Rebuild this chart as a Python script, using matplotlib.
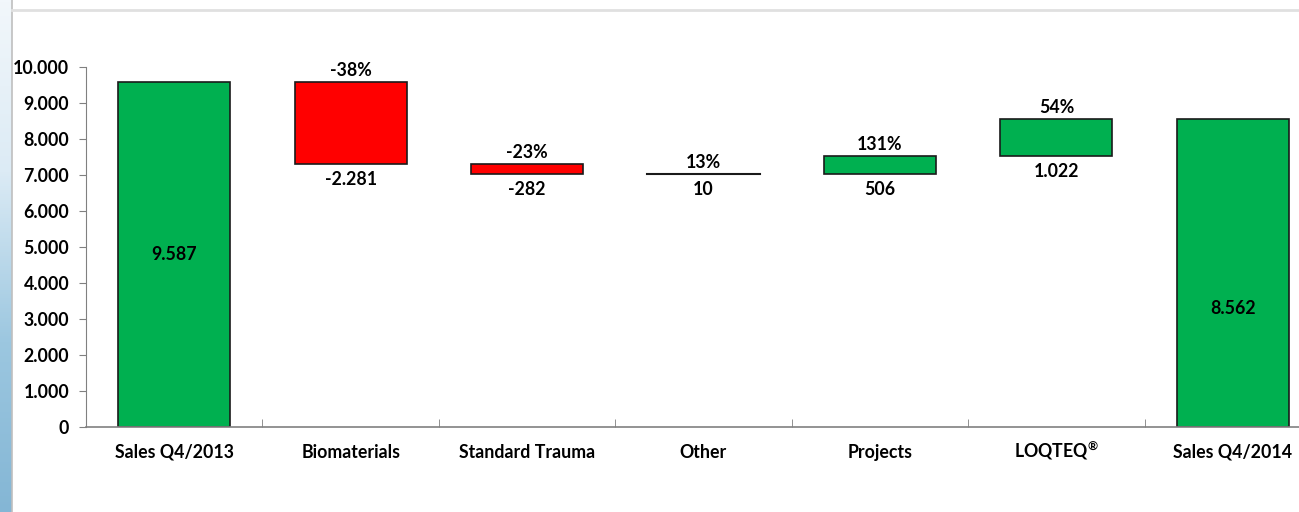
import matplotlib
matplotlib.use("Agg")
import matplotlib.pyplot as plt
import numpy as np

categories = ["Sales Q4/2013", "Biomaterials", "Standard Trauma", "Other",
              "Projects", "LOQTEQ$^{®}$", "Sales Q4/2014"]
start_value = 9587
deltas = [-2281, -282, 10, 506, 1022]
end_value = 8562
delta_labels = ["-2.281", "-282", "10", "506", "1.022"]
pct_labels = ["-38%", "-23%", "13%", "131%", "54%"]
total_labels = ["9.587", "8.562"]
yticks = [0, 1000, 2000, 3000, 4000, 5000, 6000, 7000, 8000, 9000, 10000]
ytick_labels = ["0", "1.000", "2.000", "3.000", "4.000", "5.000", "6.000",
                "7.000", "8.000", "9.000", "10.000"]

GREEN = "#00B050"
RED = "#FF0000"
EDGE = "#1a1a1a"
FS = 12.8

plt.rcParams["font.family"] = ["Lato", "DejaVu Sans"]
plt.rcParams["font.weight"] = "bold"
plt.rcParams["mathtext.fontset"] = "custom"
plt.rcParams["mathtext.rm"] = "Lato:bold"
plt.rcParams["mathtext.it"] = "Lato:bold"
plt.rcParams["mathtext.bf"] = "Lato:bold"

W, H = 1299, 512
fig = plt.figure(figsize=(W / 100, H / 100), dpi=100)

# slide decoration: blue strip on the left and light rule at the top
strip = fig.add_axes([0, 0, 12 / W, 1])
grad = np.linspace(0, 1, 256).reshape(-1, 1)
cmap = matplotlib.colors.LinearSegmentedColormap.from_list(
    "bg", ["#f2f7fb", "#dcebf5", "#9cc7e0", "#84b6d5"])
strip.imshow(grad, aspect="auto", cmap=cmap, extent=[0, 1, 0, 1])
strip.set_axis_off()
fig.add_artist(plt.Line2D([12 / W, 12 / W], [0, 1], color="#bfbfbf", lw=1.2))
fig.add_artist(plt.Line2D([12 / W, 1], [1 - 10 / H, 1 - 10 / H],
                          color="#e0e0e0", lw=2))

ax = fig.add_axes([86 / W, 85 / H, 1235 / W, 360 / H])

x = np.arange(len(categories))
width = 0.635

# totals
ax.bar(x[0], start_value, width, color=GREEN, edgecolor=EDGE, lw=1.2)
ax.bar(x[-1], end_value, width, color=GREEN, edgecolor=EDGE, lw=1.2)
ax.text(x[0], start_value * 0.5, total_labels[0], ha="center", va="center",
        fontsize=FS, fontweight="bold")
ax.text(x[-1], end_value * 0.385, total_labels[1], ha="center", va="center",
        fontsize=FS, fontweight="bold")

level = start_value
for i, d in enumerate(deltas):
    xi = x[i + 1]
    top = max(level, level + d)
    bottom = min(level, level + d)
    if abs(d) < 50:
        ax.plot([xi - width / 2, xi + width / 2], [level + d, level + d],
                color=EDGE, lw=1.5)
    else:
        ax.bar(xi, top - bottom, width, bottom=bottom,
               color=GREEN if d > 0 else RED, edgecolor=EDGE, lw=1.2)
    ax.annotate(pct_labels[i], (xi, top), xytext=(0, 2),
                textcoords="offset points", ha="center", va="bottom",
                fontsize=FS, fontweight="bold")
    ax.annotate(delta_labels[i], (xi, bottom), xytext=(0, -5),
                textcoords="offset points", ha="center", va="top",
                fontsize=FS, fontweight="bold")
    level += d

ax.set_xlim(-0.5, len(categories) - 0.5)
ax.set_ylim(0, 10000)
ax.set_yticks(yticks)
ax.set_yticklabels(ytick_labels, fontsize=FS, fontweight="bold")
ax.set_xticks(x)
ax.set_xticklabels(categories, fontsize=FS, fontweight="bold")
for lbl in ax.get_xticklabels():
    lbl.set_verticalalignment("baseline")
ax.set_xticks(np.arange(len(categories) + 1) - 0.5, minor=True)
ax.tick_params(axis="x", which="major", length=0, pad=22)
ax.tick_params(axis="x", which="minor", direction="in", length=6,
               color="#808080")
ax.tick_params(axis="y", length=5, color="#808080", pad=7)
for s in ["top", "right"]:
    ax.spines[s].set_visible(False)
ax.spines["left"].set_color("#808080")
ax.spines["bottom"].set_color("#808080")
ax.spines["bottom"].set_linewidth(1.2)

fig.savefig("out.png", dpi=100)
